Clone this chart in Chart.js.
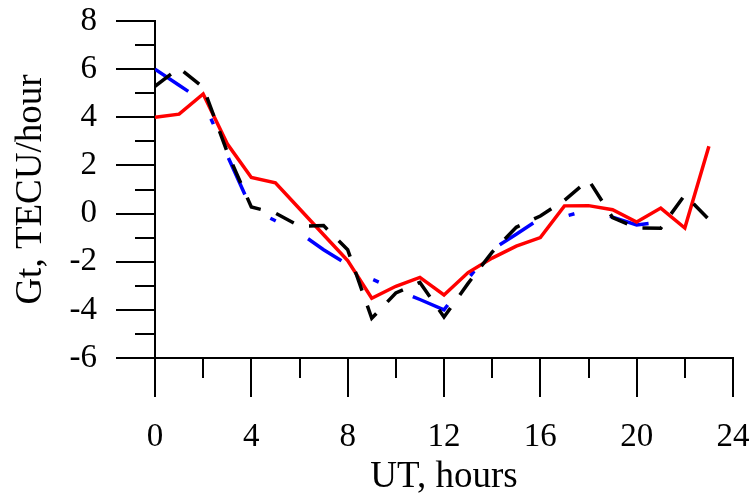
<!DOCTYPE html>
<html>
<head>
<meta charset="utf-8">
<script src="https://cdn.jsdelivr.net/npm/chart.js@4.4.1/dist/chart.umd.min.js"></script>
<style>
  html, body { margin: 0; padding: 0; background: #fff; }
  #wrap { width: 751px; height: 496px; }
</style>
</head>
<body>
<div id="wrap"><canvas id="gtChart" width="751" height="496"></canvas></div>
<script>
// Hourly Gt (TECU/hour) over a day, three series
const hours = [0, 1, 2, 3, 4, 5, 6, 7, 8, 9, 10, 11, 12, 13, 14, 15, 16, 17, 18, 19, 20, 21, 22, 23];
const gtRed = [4.0, 4.13, 4.97, 2.9, 1.5, 1.28, 0.2, -0.88, -1.95, -3.52, -3.02, -2.65,
  -3.38, -2.45, -1.85, -1.35, -1.0, 0.32, 0.33, 0.16, -0.35, 0.23, -0.6, 2.8];
const gtBlack = [5.29, 6.05, 5.25, 2.55, 0.27, 0.02, -0.52, -0.5, -1.5, -4.35, -3.3, -2.86,
  -4.3, -2.9, -1.6, -0.57, -0.1, 0.55, 1.4, -0.17, -0.6, -0.61, 0.78, -0.25];
const gtBlue = [6.0, 5.33, 4.67, 2.42, 0.2, -0.3, -0.8, -1.5, -2.12, -2.72, -3.15, -3.57,
  -4.0, -2.7, -1.5, -0.86, -0.2, -0.12, 0.15, -0.15, -0.47, -0.35, null, null];

// axis ranges and tick marks (long ones carry a label)
const xMin = 0, xMax = 24;
const yMin = -6, yMax = 8;
const xTickMarks = [0, 2, 4, 6, 8, 10, 12, 14, 16, 18, 20, 22, 24];
const yTickMarks = [-6, -5, -4, -3, -2, -1, 0, 1, 2, 3, 4, 5, 6, 7, 8];

const serif = 'Liberation Serif';
const pts = arr => hours.map((h, i) => ({ x: h, y: arr[i] }));

// draws the outside tick marks: long at labelled values, short in between
const tickMarks = {
  id: 'tickMarks',
  afterDraw(chart) {
    const { ctx, scales: { x, y } } = chart;
    ctx.save();
    ctx.strokeStyle = '#000';
    ctx.lineWidth = 2;
    ctx.beginPath();
    xTickMarks.forEach(v => {
      const px = Math.round(x.getPixelForValue(v));
      const len = v % 4 === 0 ? 39 : 20;
      ctx.moveTo(px, y.bottom);
      ctx.lineTo(px, y.bottom + len);
    });
    yTickMarks.forEach(v => {
      const py = Math.round(y.getPixelForValue(v));
      const len = v % 2 === 0 ? 39 : 20;
      ctx.moveTo(x.left, py);
      ctx.lineTo(x.left - len, py);
    });
    ctx.stroke();
    ctx.restore();
  }
};

new Chart(document.getElementById('gtChart'), {
  type: 'line',
  data: {
    datasets: [
      {
        data: pts(gtBlack),
        borderColor: '#000000',
        borderWidth: 3.5,
        borderDash: [20, 16],
        pointRadius: 0,
        tension: 0
      },
      {
        data: pts(gtRed),
        borderColor: '#ff0000',
        borderWidth: 3.5,
        pointRadius: 0,
        tension: 0
      },
      {
        data: pts(gtBlue),
        borderColor: '#0000ff',
        borderWidth: 3.5,
        borderDash: [40, 37, 6, 37],
        pointRadius: 0,
        tension: 0
      }
    ]
  },
  options: {
    responsive: false,
    animation: false,
    layout: { padding: { top: 21, right: 18, bottom: 0, left: 0 } },
    plugins: {
      legend: { display: false },
      tooltip: { enabled: false }
    },
    scales: {
      x: {
        type: 'linear',
        min: xMin,
        max: xMax,
        afterFit: s => {
          s.height = 138;
          s.paddingLeft = 0;
          s.paddingRight = 0;
        },
        border: { display: true, color: '#000', width: 2 },
        grid: { drawOnChartArea: false, drawTicks: true, tickLength: 39, tickColor: 'transparent' },
        ticks: {
          stepSize: 4,
          padding: 21,
          color: '#000',
          maxRotation: 0,
          font: { family: serif, size: 33 }
        },
        title: {
          display: true,
          text: 'UT, hours',
          color: '#000',
          padding: { top: 0, bottom: 0 },
          font: { family: serif, size: 37, lineHeight: 1 }
        }
      },
      y: {
        min: yMin,
        max: yMax,
        afterFit: s => {
          s.width = 155;
          s.paddingTop = 0;
          s.paddingBottom = 0;
        },
        border: { display: true, color: '#000', width: 2 },
        grid: { drawOnChartArea: false, drawTicks: true, tickLength: 39, tickColor: 'transparent' },
        ticks: {
          stepSize: 2,
          padding: 19,
          color: '#000',
          font: { family: serif, size: 33 }
        },
        title: {
          display: true,
          text: 'Gt, TECU/hour',
          color: '#000',
          padding: { top: 13, bottom: 0 },
          font: { family: serif, size: 37, lineHeight: 1 }
        }
      }
    }
  },
  plugins: [tickMarks]
});
</script>
</body>
</html>
